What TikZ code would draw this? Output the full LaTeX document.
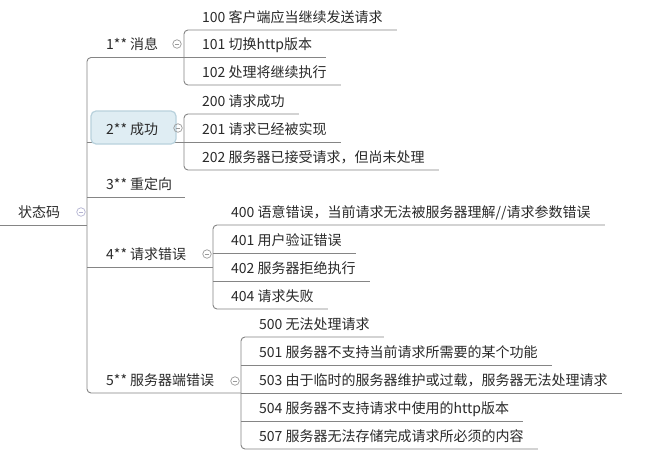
\documentclass[tikz,border=0pt]{standalone}
\usepackage{fontspec}
\setmainfont{Noto Sans CJK SC}
\usetikzlibrary{backgrounds}
\definecolor{linegray}{HTML}{858585}
\definecolor{txt}{HTML}{2A2A2A}
\definecolor{selfill}{HTML}{DFEDF3}
\definecolor{seldraw}{HTML}{B9D2DD}
\definecolor{icongray}{HTML}{9A9A9A}
\definecolor{iconroot}{HTML}{B4B4D2}
\begin{document}
\begin{tikzpicture}[x=1pt,y=-1pt,
  base/.style={anchor=south west, inner xsep=0pt, inner ysep=0pt,
    text height=11pt, text depth=7.6pt, text=txt,
    font=\fontsize{14pt}{16pt}\selectfont},
  leaf/.style={base, execute at begin node={\hspace*{18pt}},
    execute at end node={\hspace*{14pt}}},
  branch/.style={base, execute at begin node={\hspace*{19pt}}},
  conn/.style={draw=linegray, line width=0.9pt, rounded corners=4pt},
  selbox/.style={draw=seldraw, fill=selfill, line width=1.2pt, rounded corners=5pt},
  collapse/.style={circle, draw=#1, line width=0.7pt, minimum size=8.5pt, inner sep=0pt,
    path picture={\draw[#1, line width=0.7pt]
      ([xshift=2pt]path picture bounding box.west) --
      ([xshift=-2pt]path picture bounding box.east);}},
  collapse/.default=icongray
]
\useasboundingbox (0,0) rectangle (649,461);

% selected topic box
\draw[selbox] (91,111) rectangle (176,144);

% root
\node[base, execute at begin node={\hspace*{18pt}}] (root) at (0,225) {状态码};
\node[collapse=iconroot] (kroot) at (81,212) {};

% level 1
\node[branch] (p1) at (87,57.5) {1** 消息};
\node[branch] (p2) at (87,142) {2** 成功};
\node[branch, execute at end node={\hspace*{13pt}}] (p3) at (87,197) {3** 重定向};
\node[branch] (p4) at (87,267) {4** 请求错误};
\node[branch] (p5) at (87,393) {5** 服务器端错误};
\node[collapse] (k1) at (177,44) {};
\node[collapse] (k2) at (178,128) {};
\node[collapse] (k4) at (207,254) {};
\node[collapse] (k5) at (235,381) {};

% 1xx
\node[leaf] (c100) at (184,30) {100 客户端应当继续发送请求};
\node[leaf] (c101) at (184,57.5) {101 切换http版本};
\node[leaf] (c102) at (184,85) {102 处理将继续执行};
% 2xx
\node[leaf] (c200) at (184,114) {200 请求成功};
\node[leaf] (c201) at (184,142) {201 请求已经被实现};
\node[leaf] (c202) at (184,170) {202 服务器已接受请求，但尚未处理};
% 4xx
\node[leaf] (c400) at (213,225) {400 语意错误，当前请求无法被服务器理解//请求参数错误};
\node[leaf] (c401) at (213,253) {401 用户验证错误};
\node[leaf] (c402) at (213,281) {402 服务器拒绝执行};
\node[leaf] (c404) at (213,309) {404 请求失败};
% 5xx
\node[leaf] (c500) at (241,337) {500 无法处理请求};
\node[leaf] (c501) at (241,365) {501 服务器不支持当前请求所需要的某个功能};
\node[leaf] (c503) at (241,393) {503 由于临时的服务器维护或过载，服务器无法处理请求};
\node[leaf] (c504) at (241,421) {504 服务器不支持请求中使用的http版本};
\node[leaf] (c507) at (241,449) {507 服务器无法存储完成请求所必须的内容};

\begin{scope}[on background layer]
  \fill[white] (0,0) rectangle (649,461);
  % root and trunk
  \draw[conn] (root.south west) -- (root.south west -| p1.south west);
  \draw[conn] (p1.south west -| c101.south west) -- (p1.south west)
     -- (p5.south west) -- (p5.south west -| c503.south west);
  \draw[conn] (p2.south west) -- (p2.south west -| c201.south west);
  \draw[conn] (p3.south west) -- (p3.south east);
  \draw[conn] (p4.south west) -- (p4.south west -| c401.south west);
  % 1xx
  \draw[conn] (c100.south east) -- (c100.south west) -- (c102.south west) -- (c102.south east);
  \draw[conn] (c101.south west) -- (c101.south east);
  % 2xx
  \draw[conn] (c200.south east) -- (c200.south west) -- (c202.south west) -- (c202.south east);
  \draw[conn] (c201.south west) -- (c201.south east);
  % 4xx
  \draw[conn] (c400.south east) -- (c400.south west) -- (c404.south west) -- (c404.south east);
  \draw[conn] (c401.south west) -- (c401.south east);
  \draw[conn] (c402.south west) -- (c402.south east);
  % 5xx
  \draw[conn] (c500.south east) -- (c500.south west) -- (c507.south west) -- (c507.south east);
  \draw[conn] (c501.south west) -- (c501.south east);
  \draw[conn] (c503.south west) -- (c503.south east);
  \draw[conn] (c504.south west) -- (c504.south east);
\end{scope}
\end{tikzpicture}
\end{document}
